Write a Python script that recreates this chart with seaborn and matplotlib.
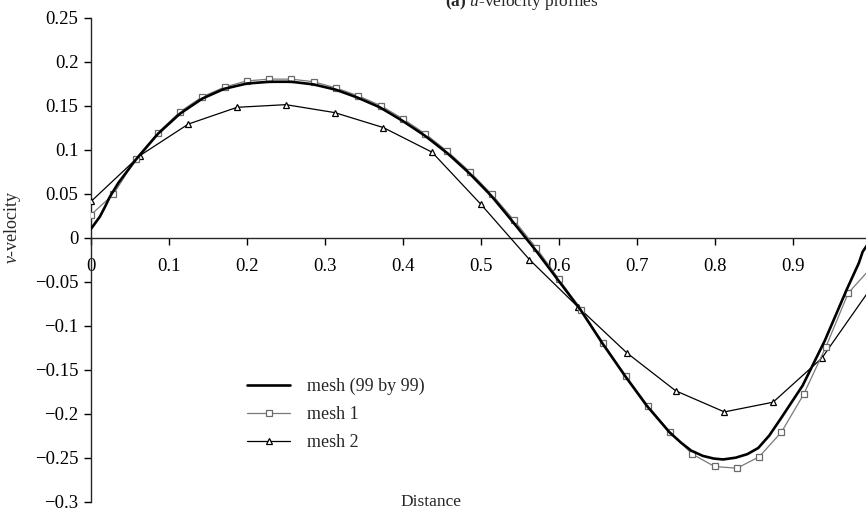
import numpy as np
import pandas as pd
import matplotlib
matplotlib.use("Agg")
import matplotlib.pyplot as plt
import seaborn as sns

# ---- data ----
fine_x = [0.0, 0.005, 0.0115, 0.018, 0.024, 0.035, 0.057, 0.086, 0.1145, 0.143, 0.171, 0.2,
          0.229, 0.257, 0.2855, 0.314, 0.342, 0.3705, 0.399, 0.428, 0.457, 0.4855, 0.514,
          0.542, 0.571, 0.599, 0.628, 0.656, 0.685, 0.713, 0.742, 0.757, 0.770, 0.785, 0.799,
          0.811, 0.827, 0.842, 0.856, 0.870, 0.8846, 0.913, 0.9414, 0.970, 0.985, 0.99, 1.0]
fine_v = [0.010, 0.016, 0.024, 0.035, 0.046, 0.062, 0.088, 0.118, 0.141, 0.158, 0.169, 0.175,
          0.177, 0.177, 0.174, 0.168, 0.159, 0.148, 0.133, 0.116, 0.096, 0.073, 0.047,
          0.017, -0.015, -0.048, -0.082, -0.120, -0.157, -0.191, -0.221, -0.233, -0.242,
          -0.248, -0.251, -0.252, -0.250, -0.246, -0.239, -0.225, -0.206, -0.168, -0.117,
          -0.058, -0.029, -0.016, -0.003]

mesh1_x = [i / 35 for i in range(36)]
mesh1_v = [0.026, 0.049, 0.089, 0.119, 0.143, 0.160, 0.171, 0.178, 0.180, 0.180, 0.177, 0.170,
           0.161, 0.150, 0.135, 0.118, 0.098, 0.075, 0.049, 0.0195, -0.012, -0.047, -0.082,
           -0.120, -0.157, -0.191, -0.221, -0.246, -0.260, -0.262, -0.249, -0.221, -0.178,
           -0.124, -0.063, -0.035]

mesh2_x = [i / 16 for i in range(17)]
mesh2_v = [0.041, 0.093, 0.129, 0.148, 0.151, 0.142, 0.125, 0.097, 0.038, -0.025, -0.079,
           -0.131, -0.174, -0.198, -0.187, -0.137, -0.058]

series_labels = ["mesh (99 by 99)", "mesh 1", "mesh 2"]
x_ticks = [0.0, 0.1, 0.2, 0.3, 0.4, 0.5, 0.6, 0.7, 0.8, 0.9]
x_ticklabels = ["0", "0.1", "0.2", "0.3", "0.4", "0.5", "0.6", "0.7", "0.8", "0.9"]
y_ticks = [0.25, 0.2, 0.15, 0.1, 0.05, 0.0, -0.05, -0.1, -0.15, -0.2, -0.25, -0.3]
y_ticklabels = ["0.25", "0.2", "0.15", "0.1", "0.05", "0", "\u22120.05", "\u22120.1",
                "\u22120.15", "\u22120.2", "\u22120.25", "\u22120.3"]

# ---- style ----
sns.set_style("ticks")
plt.rcParams["font.family"] = ["Liberation Serif", "DejaVu Serif"]
plt.rcParams["mathtext.fontset"] = "custom"
plt.rcParams["mathtext.rm"] = "Liberation Serif"
plt.rcParams["mathtext.it"] = "Liberation Serif:italic"
plt.rcParams["mathtext.bf"] = "Liberation Serif:bold"

W, H = 866, 514
fig = plt.figure(figsize=(W / 100, H / 100), dpi=100)
x0, x1 = 91, 866
y_top, y_bot = 17.5, 501.7
ax = fig.add_axes([x0 / W, (H - y_bot) / H, (x1 - x0) / W, (y_bot - y_top) / H])

df_fine = pd.DataFrame({"x": fine_x, "v": fine_v})
df_m1 = pd.DataFrame({"x": mesh1_x, "v": mesh1_v})
df_m2 = pd.DataFrame({"x": mesh2_x, "v": mesh2_v})

sns.lineplot(data=df_m2, x="x", y="v", ax=ax, color="black", linewidth=0.9,
             marker="^", markersize=5, markerfacecolor="white", markeredgecolor="black",
             markeredgewidth=0.9, sort=False, estimator=None, label=series_labels[2], zorder=3)
sns.lineplot(data=df_m1, x="x", y="v", ax=ax, color="#7a7a7a", linewidth=0.9,
             marker="s", markersize=4.5, markerfacecolor="white", markeredgecolor="#6a6a6a",
             markeredgewidth=0.9, sort=False, estimator=None, label=series_labels[1], zorder=4)
sns.lineplot(data=df_fine, x="x", y="v", ax=ax, color="black", linewidth=1.9,
             sort=False, estimator=None, label=series_labels[0], zorder=5)

ax.set_xlim(0, (x1 - x0) / 779.5)
ax.set_ylim(-0.3, 0.25)

for s in ["top", "right"]:
    ax.spines[s].set_visible(False)
ax.spines["bottom"].set_position(("data", 0))
ax.spines["left"].set_linewidth(1.0)
ax.spines["bottom"].set_linewidth(1.0)

ax.set_xticks(x_ticks)
ax.set_xticklabels(x_ticklabels)
ax.set_yticks(y_ticks)
ax.set_yticklabels(y_ticklabels)
ax.tick_params(axis="x", direction="out", length=5, width=1.0, pad=10, labelsize=13.5,
               colors="black")
ax.tick_params(axis="y", direction="out", length=5, width=1.0, pad=4, labelsize=13.5,
               colors="black")

ax.set_xlabel("")
ax.set_ylabel(r"$v$-velocity", fontsize=13)
ax.yaxis.set_label_coords(-68 / (x1 - x0), (y_bot - 227) / (y_bot - y_top))

fig.text(431 / W, 1 - 502 / H, "Distance", ha="center", va="center", fontsize=12.5)
fig.text(522 / W, 1 - 6 / H, r"$\mathbf{(a)}$ $u$-velocity profiles", ha="center",
         va="baseline", fontsize=12.5)

handles, labels = ax.get_legend_handles_labels()
order = [labels.index(l) for l in series_labels]
leg = ax.legend([handles[i] for i in order], [labels[i] for i in order],
                loc="upper left", bbox_to_anchor=(247 / W, 1 - 378 / H),
                bbox_transform=fig.transFigure, frameon=False, fontsize=13,
                handlelength=2.4, handletextpad=0.95, labelspacing=0.6, borderpad=0,
                borderaxespad=0)

fig.savefig("out.png", dpi=100)
